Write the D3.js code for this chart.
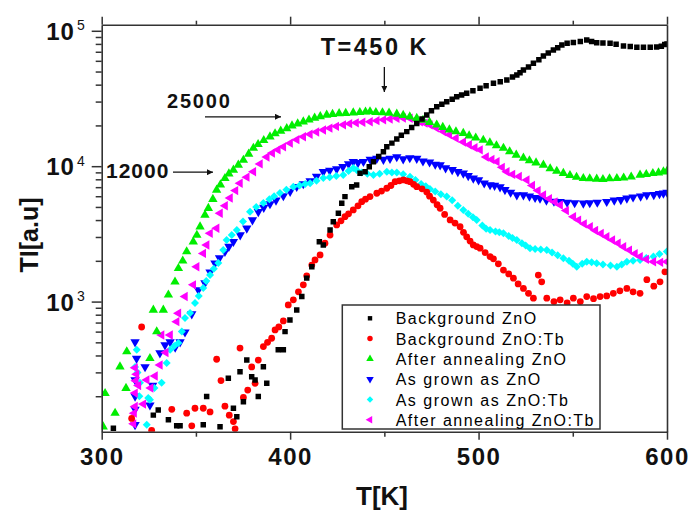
<!DOCTYPE html>
<html><head><meta charset="utf-8">
<script src="https://cdn.jsdelivr.net/npm/d3@7"></script>
<style>body{margin:0;background:#fff}svg{display:block}text{font-family:"Liberation Sans",Arial,sans-serif}</style>
</head><body><svg id="c" width="691" height="512"></svg>
<script>
const xTicks=[300,400,500,600];
const xMinor=[350,450,550];
const yTicks=[1e3,1e4,1e5];
const yMinor=[200,300,400,500,600,700,800,900,2000,3000,4000,5000,6000,7000,8000,9000,20000,30000,40000,50000,60000,70000,80000,90000];
const seriesNames=["Background ZnO","Background ZnO:Tb","After annealing ZnO","As grown as ZnO","As grown as ZnO:Tb","After annealing ZnO:Tb"];
const seriesColors=["#000000","#ff0000","#00ee00","#0000ff","#00ffff","#ff00ff"];

const bgZnO=[[306.2,116],[327.4,145],[330.0,158],[335.4,134],[339.8,121],[341.6,121],[353.9,123],[355.7,199],[362.8,119],[367.2,271],[369.9,163],[371.7,141],[373.4,303],[375.2,182],[377.0,370],[379.6,279],[381.4,264],[383.1,199],[385.8,330],[387.6,249],[393.7,440],[396.4,440],[397.3,600],[399.9,731],[403.5,867],[406.2,1090],[408.8,1490],[411.5,1810],[415.5,2770],[417.6,2620],[421.2,3380],[422.9,3890],[425.6,4490],[427.4,5320],[429.1,5960],[432.7,7060],[435.3,7270],[437.1,8870],[439.8,9100],[442,9900],[444.2,10800],[447,11800],[449.5,12800],[451.3,13900],[454,14800],[456.6,15900],[459,16900],[461.9,18000],[464.5,19300],[467.2,20700],[470,22300],[472.5,23900],[475,25700],[477.8,27500],[480.5,28700],[483.1,29900],[486,31200],[488.4,32600],[491,33500],[493.7,34500],[497,36000],[500.8,37600],[504,39200],[507.9,40900],[511.5,42000],[515,43300],[518,45500],[520.3,47200],[522,49000],[523.8,51300],[526.5,54000],[529.1,57500],[532,61000],[534.4,65200],[537,68500],[539.7,72100],[542,75000],[544.2,78500],[547,81000],[550.3,82000],[554,83500],[557.4,85500],[560,83500],[562.7,81700],[566,81300],[569.8,80900],[573,79500],[576.9,77300],[580.5,76500],[584,75500],[587.5,75500],[591.1,75500],[594.5,76000],[597,77000],[598.8,79200],[600,80000]];

const bgZnOTb=[[315.9,137],[321.2,649],[326.5,112],[337.2,160],[345.1,150],[347.8,121],[349.5,163],[353.9,163],[357.5,153],[361.0,375],[363.3,261],[365.4,169],[367.7,145],[369.9,130],[370.8,115],[373.4,454],[375.2,196],[377.5,222],[379.6,329],[381.4,249],[383.1,370],[385.8,465],[388,500],[390.2,536],[392.0,617],[394,650],[396.4,719],[399.0,944],[401.7,1030],[404.4,1180],[407.0,1330],[408.8,1550],[411.5,1860],[413.2,2030],[415.9,2210],[418.5,2700],[421.2,3100],[424.7,3680],[427,3950],[429.1,4240],[431,4450],[433.5,4750],[436,5100],[438.0,5470],[440,5700],[442.4,5960],[446.0,6310],[448.5,6550],[451.3,6870],[453.5,7200],[455.7,7690],[458,7800],[460.1,7910],[462,7800],[463.6,7690],[465.5,7350],[467.2,7060],[470,6800],[472.5,6440],[474,6000],[476.0,5620],[478,5200],[479.6,4890],[482,4400],[484.9,4010],[487.5,3800],[490.2,3570],[492,3250],[493.7,3010],[495.5,2800],[497.2,2620],[499,2550],[500.8,2480],[503.5,2300],[506.1,2150],[507.9,2070],[510.5,1900],[513.2,1710],[516,1600],[518.5,1490],[521,1350],[523.8,1250],[526.5,1150],[529.1,1060],[531.7,1570],[533.5,1400],[536.2,1060],[540,1000],[543.3,1030],[547,980],[550.3,1060],[554,1000],[557.4,1090],[561,1050],[564.5,1090],[568,1100],[571.5,1150],[575,1200],[578.7,1250],[582,1180],[585.7,1150],[589.3,1450],[593,1300],[596.3,1400],[598.9,1660]];

const annZnO=[[300.8,119],[301.8,210],[307.1,150],[309.7,330],[312.9,229],[313.3,427],[325.6,381],[327.4,867],[329.2,600],[332.7,867],[335.4,1120],[338.9,1400],[340.7,1760],[343,2000],[345.1,2340],[348.6,2770],[350.5,3100],[352.2,3570],[354.8,4360],[356.6,4890],[359,5700],[361.0,6670],[363,7300],[365.4,8140],[367.5,8800],[369.9,9370],[372.5,10200],[375.2,11100],[378,12300],[380.5,13600],[383,14500],[386,15500],[389.3,16500],[392,17400],[395,18200],[398.2,19000],[401,19900],[404,20600],[407,21300],[410,22000],[413,22700],[416,23300],[419.4,23900],[422.5,24200],[426,24500],[429.5,24600],[433.5,24800],[437,25000],[440,25200],[442.4,25300],[445.5,25000],[449,24900],[452.5,24700],[456.6,24300],[460,23800],[463.5,23200],[467.2,22600],[470.5,21900],[474,21100],[477.8,20200],[481,19400],[484.5,18600],[488,18000],[491.9,17500],[495,16800],[498.5,16200],[502.5,15600],[506,14900],[509.5,14200],[513.2,13600],[516.5,12800],[520,12100],[523.8,11500],[527,11000],[530.5,10600],[534.4,10200],[538,9600],[541.5,9200],[545,8870],[548.5,8550],[552,8300],[555.6,8140],[559,8100],[562.7,8040],[566,8000],[569.5,8100],[573.4,8140],[577,8200],[581,8350],[585.7,8610],[589,8700],[592.5,8850],[595.5,8950],[598.1,9100],[600,9200]];

const grownZnO=[[317.7,123],[317.7,160],[317.7,200],[317.7,264],[317.7,503],[318.5,380],[323.0,329],[325.6,172],[327,240],[330.9,417],[333.6,478],[336.3,503],[339,460],[341.6,503],[344.2,594],[347.8,809],[351.3,1220],[354.8,1370],[357.5,1650],[360.1,1920],[362.5,2100],[365.4,2340],[367.5,2550],[369.9,2770],[373.5,3100],[377.0,3480],[380,4000],[383.1,4610],[386,4950],[389.3,5260],[392.5,5600],[396.4,6030],[400,6500],[403.5,7060],[407,7400],[410.6,7780],[414,8400],[417.6,9100],[421,9300],[424.7,9530],[428,9900],[431,10400],[433.5,10800],[436,10600],[438.9,10800],[442.5,11200],[446,11400],[449.5,11200],[453,11400],[456.6,11700],[460,11300],[463.5,11500],[467.2,11400],[470.5,10900],[474,10700],[477,10300],[479.6,10200],[482.5,9700],[486,9400],[489,9100],[491.9,8870],[494.5,8500],[497.2,8140],[500,7900],[503,7500],[506.1,7270],[508.5,7200],[511.4,7020],[514,6700],[517,6400],[520.3,6120],[523.8,6120],[527,6000],[530,5850],[532.6,5790],[536,5600],[540,5500],[543.3,5470],[547,5400],[551,5350],[555.6,5320],[559,5350],[563,5400],[568,5470],[572,5600],[575.5,5650],[578.7,5790],[582,5900],[586,6000],[589.3,6120],[593,6150],[596,6250],[598.1,6310],[600,6400]];

const grownZnOTb=[[317.7,329],[318.6,440],[319,300],[320.3,251],[320,200],[323.9,123],[324.7,194],[325.6,188],[328,230],[331.8,251],[334.5,352],[336.3,440],[338.5,470],[340.7,494],[342.5,600],[344.2,757],[346.9,824],[349.5,977],[351.5,1100],[353.9,1260],[355.5,1420],[357.5,1570],[359.5,1750],[361.9,1930],[364.5,2400],[366.3,2850],[369,3100],[371.7,3380],[375,3900],[378.7,4610],[382,5000],[385.8,5350],[389,5700],[391.5,6000],[394.6,6340],[398,6700],[401.7,7060],[405,7200],[408,7400],[410.6,7480],[414,7800],[417.6,8180],[421,8300],[424.5,8450],[428.2,8610],[431,9200],[433.5,9700],[435.3,9370],[438,9000],[441,8800],[444.2,8610],[447.5,8800],[451.3,9100],[454,9000],[456.6,8980],[460,8700],[463.6,8360],[466.5,7900],[469.5,7400],[472,7100],[474.2,6790],[477,6500],[480,6200],[483.1,5960],[486,5600],[489,5100],[491.9,4750],[494.5,4450],[497,4200],[499,4010],[502,3650],[504,3450],[506.1,3380],[509,3300],[511,3250],[513.2,3190],[516,3050],[518,2950],[520.3,2850],[523,2700],[525,2600],[527.3,2480],[530,2450],[533,2420],[536.2,2400],[539,2300],[542,2200],[545,2090],[548,2000],[550,1900],[552.1,1810],[555,1900],[557.4,1970],[560,1950],[562.7,1920],[566,1880],[570,1850],[573.4,1810],[576,1880],[578.7,1970],[582,2000],[585.7,2030],[589,2100],[592.8,2150],[596,2250],[599.9,2340]];

const annZnOTb=[[316.9,125],[317.2,150],[317.7,168],[317.7,211],[318.1,260],[317.7,324],[318.5,290],[319.5,240],[322.1,175],[323.9,264],[326,230],[328.3,282],[330.9,340],[331.8,566],[334,420],[336.3,566],[339.8,711],[340.7,820],[344.2,1090],[348.6,1330],[350.4,1810],[353.9,2270],[355.7,2620],[357.5,3190],[361.0,3480],[362.8,4490],[365.5,5100],[368.1,5820],[371,6600],[373.4,7480],[377,8300],[380.5,9100],[384,10400],[387.6,11700],[390.5,12500],[393.5,13200],[396.4,13900],[400,14800],[403.5,15700],[407,16500],[410.5,17200],[414,17900],[417.6,18500],[421,19100],[424.5,19700],[428.2,20200],[431.5,20600],[435,20900],[438.5,21100],[442.4,21300],[446,21700],[449.5,22000],[453,22300],[456.6,22600],[460,22700],[463.6,22600],[466.5,22000],[469,21300],[471.5,20800],[474.2,20200],[477.5,19200],[481.3,18000],[484.5,17100],[488,16100],[491.9,15100],[495,14400],[498,13700],[500.8,13200],[504,11700],[507,11200],[509.7,10800],[512.5,9800],[515,9100],[518,8700],[521.5,8400],[525.6,7900],[528.5,7200],[531.5,6600],[534.4,6120],[537.5,5750],[540.5,5450],[543.3,5170],[546.5,4700],[550.3,4230],[553,4000],[556,3750],[559.2,3570],[562,3350],[565,3180],[568,3010],[571,2850],[574,2700],[576.9,2540],[580,2400],[583,2260],[585.7,2150],[589,2050],[592.8,1970],[596.5,1950],[599.9,1970]];

const seriesData=[bgZnO,bgZnOTb,annZnO,grownZnO,grownZnOTb,annZnOTb];

const L=101.7,R=667,T=24.7,B=431.7;
const svg=d3.select("#c");
const x=d3.scaleLinear().domain([300,600]).range([L,R]);
const y=d3.scaleLog().domain([109.4,110900]).range([B,T]);
const axisColor="#333";

// symbols: 0 square,1 circle,2 tri up,3 tri down,4 diamond,5 tri left
const symDefs=[
  {type:d3.symbolSquare,size:30,rot:0},
  {type:d3.symbolCircle,size:36,rot:0},
  {type:d3.symbolTriangle,size:38,rot:0},
  {type:d3.symbolTriangle,size:38,rot:180},
  {type:d3.symbolSquare,size:32,rot:45},
  {type:d3.symbolTriangle,size:38,rot:-90}
];

svg.append("defs").append("clipPath").attr("id","clip").append("rect")
  .attr("x",L).attr("y",T).attr("width",R-L).attr("height",B-T);

const plot=svg.append("g").attr("clip-path","url(#clip)");
const drawOrder=[3,4,5,2,1,0];
drawOrder.forEach(i=>{
  const s=symDefs[i];
  const path=d3.symbol().type(s.type).size(s.size)();
  plot.append("g").selectAll("path").data(seriesData[i]).join("path")
    .attr("d",path)
    .attr("transform",d=>`translate(${x(d[0])},${y(d[1])}) rotate(${s.rot})`)
    .attr("fill",seriesColors[i]);
});

function styleAxis(g){g.selectAll("path,line").attr("stroke",axisColor).attr("stroke-width",1.5);g.select(".domain").attr("stroke-width",1.6);}
// bottom
const gb=svg.append("g").attr("transform",`translate(0,${B})`)
  .call(d3.axisBottom(x).tickValues(xTicks).tickSize(8).tickSizeOuter(0).tickFormat(d3.format("d")));
styleAxis(gb);
gb.selectAll("text").attr("y",33).attr("dy",0).attr("fill","#111")
  .style("font-size","24px").style("font-weight","bold").style("letter-spacing","1.5px");
const gbm=svg.append("g").attr("transform",`translate(0,${B})`)
  .call(d3.axisBottom(x).tickValues(xMinor).tickSize(5).tickFormat(""));
styleAxis(gbm);gbm.select(".domain").remove();
// top
const gt=svg.append("g").attr("transform",`translate(0,${T})`)
  .call(d3.axisTop(x).tickValues(xTicks).tickSize(8).tickSizeOuter(0).tickFormat(""));
styleAxis(gt);
const gtm=svg.append("g").attr("transform",`translate(0,${T})`)
  .call(d3.axisTop(x).tickValues(xMinor).tickSize(4).tickFormat(""));
styleAxis(gtm);gtm.select(".domain").remove();
// left
const gl=svg.append("g").attr("transform",`translate(${L},0)`)
  .call(d3.axisLeft(y).tickValues(yTicks).tickSize(10).tickSizeOuter(0).tickFormat(()=>""));
styleAxis(gl);
gl.selectAll(".tick text").each(function(d){
  const t=d3.select(this).attr("dy",0).attr("y",8.5).attr("fill","#111")
    .style("font-size","24px").style("font-weight","bold").style("letter-spacing","1px");
  t.append("tspan").text("10");
  t.append("tspan").text(Math.round(Math.log10(d))).style("font-size","14px").style("font-weight","normal").attr("dy",-9.5).attr("dx",2);
});
gl.selectAll(".tick text").attr("x",-16).attr("text-anchor","end");
const glm=svg.append("g").attr("transform",`translate(${L},0)`)
  .call(d3.axisLeft(y).tickValues(yMinor).tickSize(6).tickFormat(""));
styleAxis(glm);glm.select(".domain").remove();
// right
const gr=svg.append("g").attr("transform",`translate(${R},0)`)
  .call(d3.axisRight(y).tickValues([]).tickSizeOuter(0));
styleAxis(gr);

// axis titles
svg.append("text").attr("transform","translate(38,235) rotate(-90)").attr("text-anchor","middle")
  .style("font-size","25px").style("font-weight","bold").attr("fill","#111").text("TI[a.u]");
svg.append("text").attr("x",382).attr("y",505).attr("text-anchor","middle")
  .style("font-size","26px").style("font-weight","bold").attr("fill","#111").text("T[K]");

// annotations
const defs=svg.select("defs");
defs.append("marker").attr("id","ah").attr("viewBox","0 0 10 10").attr("refX",10).attr("refY",5)
  .attr("markerWidth",10).attr("markerHeight",6).attr("markerUnits","userSpaceOnUse").attr("orient","auto")
  .append("path").attr("d","M0,0L10,5L0,10Z").attr("fill","#111");
svg.append("text").attr("x",320.7).attr("y",55).style("font-size","23.5px").style("font-weight","bold")
  .style("letter-spacing","2.5px").attr("fill","#111").text("T=450 K");
svg.append("line").attr("x1",x(450)).attr("x2",x(450)).attr("y1",67).attr("y2",92)
  .attr("stroke","#111").attr("stroke-width",1.3).attr("marker-end","url(#ah)");
svg.append("text").attr("x",167).attr("y",108).style("font-size","20px").style("font-weight","bold")
  .style("letter-spacing","1.8px").attr("fill","#111").text("25000");
svg.append("line").attr("x1",205).attr("x2",281).attr("y1",116.8).attr("y2",116.8)
  .attr("stroke","#111").attr("stroke-width",1.3).attr("marker-end","url(#ah)");
svg.append("text").attr("x",106).attr("y",178).style("font-size","21px").style("font-weight","bold")
  .style("letter-spacing","1px").attr("fill","#111").text("12000");
svg.append("line").attr("x1",173).attr("x2",213).attr("y1",172.2).attr("y2",172.2)
  .attr("stroke","#111").attr("stroke-width",1.3).attr("marker-end","url(#ah)");

// legend
const lg=svg.append("g");
lg.append("rect").attr("x",342.3).attr("y",305).attr("width",257.7).attr("height",124)
  .attr("fill","#fff").attr("stroke","#333").attr("stroke-width",1.5);
seriesNames.forEach((n,i)=>{
  const cy=318.3+i*20.3;
  const s=symDefs[i];
  lg.append("path").attr("d",d3.symbol().type(s.type).size(s.size*0.65)())
    .attr("transform",`translate(370,${cy}) rotate(${s.rot})`).attr("fill",seriesColors[i]);
  lg.append("text").attr("x",395.7).attr("y",cy+6).style("font-size","16px")
    .style("letter-spacing","1.5px").attr("fill","#000").text(n);
});
</script></body></html>
